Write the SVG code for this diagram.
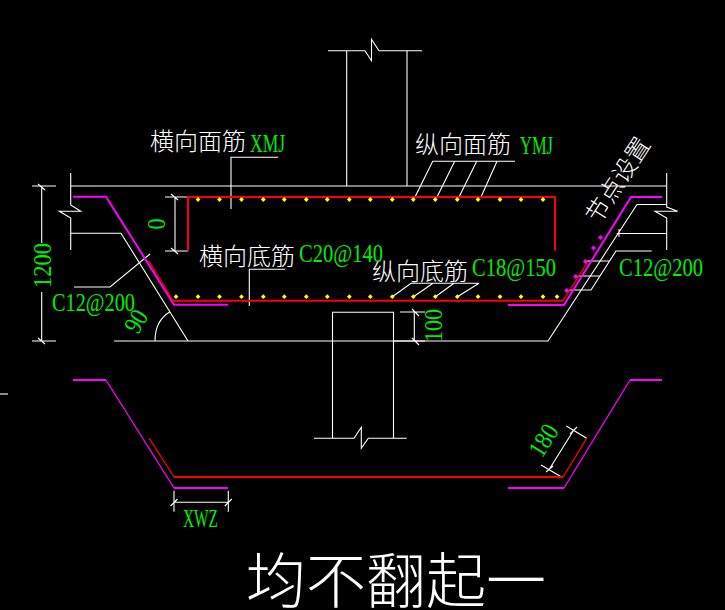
<svg xmlns="http://www.w3.org/2000/svg" width="725" height="610" viewBox="0 0 725 610">
<defs>
<style>
.w{fill:none;stroke:#fff;stroke-width:1.1}
.m{fill:none;stroke:#f0f;stroke-width:2}
.m1{fill:none;stroke:#f0f;stroke-width:1.3}
.r{fill:none;stroke:#f00;stroke-width:2}
.r1{fill:none;stroke:#f00;stroke-width:1.3}
.g{fill:#0e0;font-family:"Liberation Serif",serif}
.c{fill:#fff;font-family:"Noto Sans CJK SC",sans-serif;font-weight:300;font-size:24px}
</style>
<g id="ydot"><path d="M0-2.4L2.4 0L0 2.4L-2.4 0Z" fill="#ff0"/></g>
<g id="mdot"><path d="M0-2.6L2.6 0L0 2.6L-2.6 0Z" fill="#f0f"/></g>
</defs>
<rect width="725" height="610" fill="#000"/>
<g id="concrete">
<path class="w" d="M32 186H56M70.7 186H666M70.7 173V205L80.7 211.3H59.3L70.7 218V250M71 233.3H121L188 341M114 341H548L637 204.5H666.7M666.7 173V207L677.7 211.3L655 211.3L666.7 218V250M616.7 233.5H666.7M619 229V237"/>
<path class="w" d="M346.7 186V50.7M407 186V50.7M328 50.7H365L371.500 60.700V39.300L379 50.700H422"/>
<path class="w" d="M332.5 341V312.3H393.5V438.3M332.5 341V438.3M314 438.3H354L361.3 427.3V448.3L368.3 438.3H406.7"/>
</g>
<g id="dimensions">
<path class="w" d="M41.7 186V243M41.7 292V341M32 341H56M38 184L45 190M38 338L45 344"/>
<path class="w" d="M175 197V251M165 197H188M165 251H188M171 194L178 200M171 248L178 254"/>
<path class="w" d="M414.3 312V341M400 312H425M393.5 341H425M412 309L419 316M412 338L419 345"/>
<path class="w" d="M155 341C155 327 161 317 170 311.7"/>
<path class="w" d="M174 490.7V511.7M228.3 490.7V511.7M174 502.3H228.3M170.500 506L177.500 499M224.800 506L231.800 499"/>
<path class="w" d="M549.3 469.300L573.300 430.700M541 465L562 477.300M566.300 426L586.700 438.300M546 472L553 466M570 434L577 427"/>
</g>
<g id="leaders">
<path class="w" d="M231 209V157.300H278"/>
<path class="w" d="M515 161.300H432.700L415 197M454.700 161.300L437 197M476.700 161.300L459 197M497 161.300L481 197"/>
<path class="w" d="M285 269.300H249.300V306"/>
<path class="w" d="M479 283.300H411L392 297M433 283.300L413 297M454 283.300L435 297M479 283.300L457 297"/>
<path class="w" d="M74 287H110L150 254"/>
<path class="w" d="M651.700 251H616L591 290H569M578 276H600M587 261H610"/>
</g>
<g id="bars">
<path class="m" d="M73 196.700H106L174 304.700H228M508 305H564L631 197H662"/>
<path class="r1" d="M149 261L173 300.700"/>
<path class="r" d="M173 300.700H563"/>
<path class="r1" d="M563 300.700L587 263"/>
<path class="r" d="M188 250.700V197H555V250.700"/>
<path class="m" d="M73 380H106M174 488H228M508 488H564M630 380H662"/>
<path class="m1" d="M106 380L174 488M564 488L630 380"/>
<path class="r1" d="M149.300 438.300L174 477M563 477L586.700 438.300"/>
<path class="r" d="M174 477H563"/>
</g>
<g id="dots">
<use href="#ydot" x="198" y="199.500"/><use href="#ydot" x="219.500" y="199.500"/><use href="#ydot" x="241.500" y="199.500"/><use href="#ydot" x="263.300" y="199.500"/><use href="#ydot" x="284.300" y="199.500"/><use href="#ydot" x="306.300" y="199.500"/><use href="#ydot" x="327.300" y="199.500"/><use href="#ydot" x="349.300" y="199.500"/><use href="#ydot" x="370.300" y="199.500"/><use href="#ydot" x="392.300" y="199.500"/><use href="#ydot" x="413.300" y="199.500"/><use href="#ydot" x="435.300" y="199.500"/><use href="#ydot" x="457.300" y="199.500"/><use href="#ydot" x="478" y="199.500"/><use href="#ydot" x="500" y="199.500"/><use href="#ydot" x="521" y="199.500"/><use href="#ydot" x="543" y="199.500"/>
<use href="#ydot" x="176" y="296.700"/><use href="#ydot" x="198" y="296.700"/><use href="#ydot" x="219.500" y="296.700"/><use href="#ydot" x="241.500" y="296.700"/><use href="#ydot" x="263.300" y="296.700"/><use href="#ydot" x="284.300" y="296.700"/><use href="#ydot" x="306.300" y="296.700"/><use href="#ydot" x="327.300" y="296.700"/><use href="#ydot" x="349.300" y="296.700"/><use href="#ydot" x="370.300" y="296.700"/><use href="#ydot" x="392.300" y="296.700"/><use href="#ydot" x="413.300" y="296.700"/><use href="#ydot" x="435.300" y="296.700"/><use href="#ydot" x="457.300" y="296.700"/><use href="#ydot" x="478" y="296.700"/><use href="#ydot" x="500" y="296.700"/><use href="#ydot" x="521" y="296.700"/><use href="#ydot" x="543" y="296.700"/><use href="#ydot" x="557" y="296.700"/>
<use href="#mdot" x="600.500" y="237.500"/><use href="#mdot" x="593.500" y="248"/><use href="#mdot" x="585.500" y="261.500"/><use href="#mdot" x="575.700" y="276.500"/><use href="#mdot" x="566.700" y="290.500"/>
</g>
<g id="labels">
<text class="c" x="150" y="150">横向面筋</text>
<text class="c" x="415" y="153">纵向面筋</text>
<text class="c" x="199" y="265">横向底筋</text>
<text class="c" x="372" y="280">纵向底筋</text>
<text class="c" transform="translate(599 225) rotate(-57)">节点设置</text>
<text x="246" y="603" fill="#fff" font-family="'Noto Sans CJK SC',sans-serif" font-weight="300" font-size="60">均不翻起一</text>
<g class="g" font-size="26">
<text x="250" y="152" textLength="35" lengthAdjust="spacingAndGlyphs">XMJ</text>
<text x="520" y="154" textLength="33" lengthAdjust="spacingAndGlyphs">YMJ</text>
<text x="299" y="262" textLength="84" lengthAdjust="spacingAndGlyphs">C20@140</text>
<text x="472" y="276" textLength="84" lengthAdjust="spacingAndGlyphs">C18@150</text>
<text x="619" y="276" textLength="84" lengthAdjust="spacingAndGlyphs">C12@200</text>
<text x="52" y="311" textLength="83" lengthAdjust="spacingAndGlyphs">C12@200</text>
<text x="183" y="527" textLength="35" lengthAdjust="spacingAndGlyphs">XWZ</text>
<text transform="translate(50.500 288) rotate(-90)" textLength="45" lengthAdjust="spacingAndGlyphs">1200</text>
<text transform="translate(165 229.500) rotate(-90)" textLength="11" lengthAdjust="spacingAndGlyphs">0</text>
<text transform="translate(442 342) rotate(-90)" textLength="33" lengthAdjust="spacingAndGlyphs">100</text>
<text transform="translate(138 335) rotate(-60)" textLength="22" lengthAdjust="spacingAndGlyphs">90</text>
<text transform="translate(542 459) rotate(-58)" textLength="33" lengthAdjust="spacingAndGlyphs">180</text>
</g>
</g>
<path class="w" d="M0 394H8"/>
</svg>
